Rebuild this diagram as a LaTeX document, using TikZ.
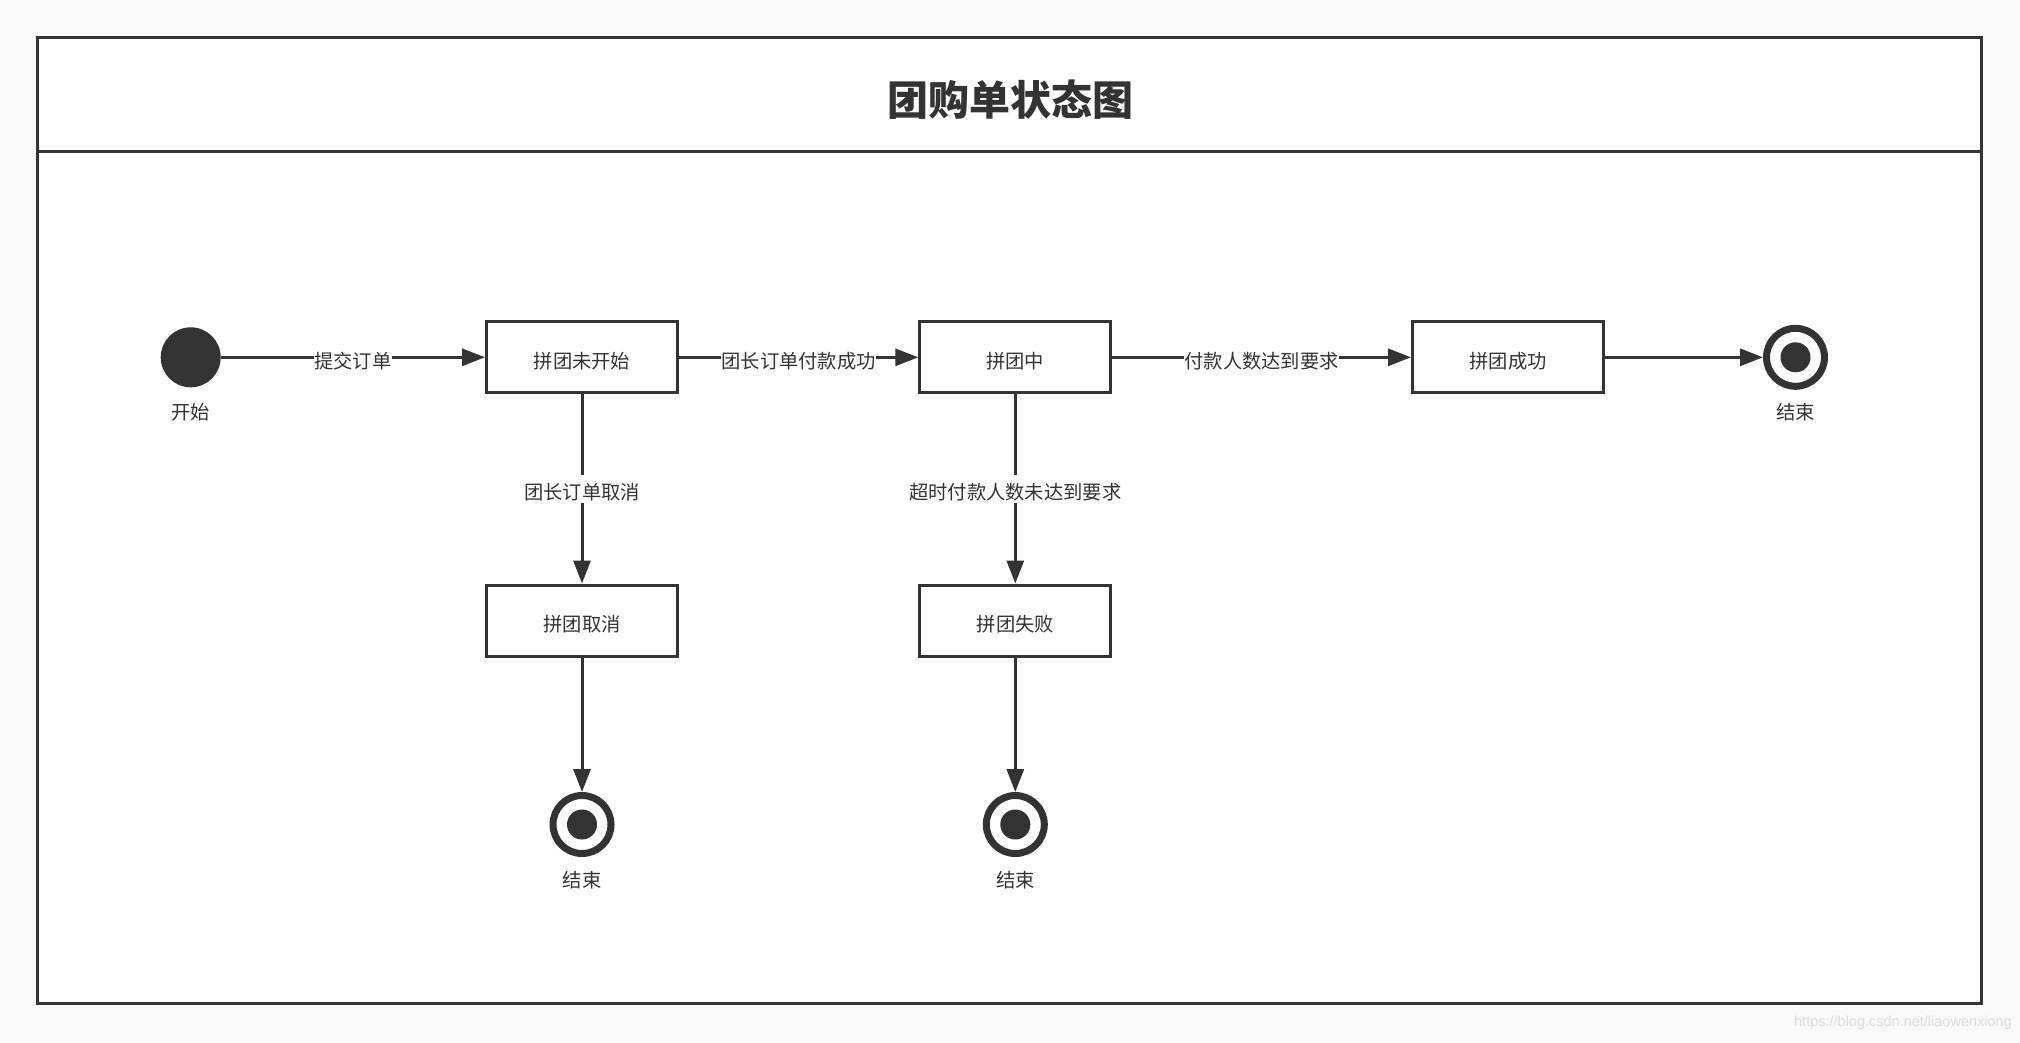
\documentclass[tikz,border=0pt]{standalone}
\usepackage{fontspec}
\setmainfont{Noto Sans CJK SC}
\newfontfamily\wmfont{Liberation Sans}
\usetikzlibrary{arrows.meta}
\definecolor{dark}{HTML}{333333}
\definecolor{bggray}{HTML}{F9F9F9}
\definecolor{wmgray}{HTML}{DCDCDC}
\tikzset{
  txt/.style={text=dark, font=\fontsize{19.3}{23}\selectfont, text height=24pt, text depth=2.3pt, inner sep=0pt},
  statebox/.style={txt, draw=dark, line width=3pt, fill=white, minimum width=191pt, minimum height=71pt},
  startdot/.style={circle, fill=dark, minimum size=60pt, inner sep=0pt},
  endring/.style={circle, draw=dark, line width=7pt, fill=white, minimum size=58pt, inner sep=0pt},
  edgelbl/.style={txt, fill=white, inner sep=0.5pt},
  conn/.style={draw=dark, line width=3pt, -{Triangle[length=23pt,width=17pt]}},
}
\begin{document}
\begin{tikzpicture}[x=1pt,y=-1pt]
\fill[bggray] (0,0) rectangle (2020,1042);
\fill[white] (37.5,37.5) rectangle (1981.5,1003.5);
\draw[dark, line width=3pt] (37.5,37.5) rectangle (1981.5,1003.5);
\draw[dark, line width=3pt] (37.5,151.5) -- (1981.5,151.5);
\node[text=dark, font=\fontsize{41}{48}\selectfont\bfseries, text height=36pt, text depth=4.9pt, inner sep=0pt] (title) at (1010,100) {团购单状态图};

\node[startdot] (start) at (190.7,357.3) {};
\node[txt] (startlbl) at (190.7,408.5) {开始};

\node[statebox] (notstarted) at (582,357.3) {拼团未开始};
\node[statebox] (ongoing) at (1015.3,357.3) {拼团中};
\node[statebox] (success) at (1508,357.3) {拼团成功};
\node[statebox] (cancel) at (582,620.5) {拼团取消};
\node[statebox] (fail) at (1015.3,620.5) {拼团失败};

\node[endring] (endR) at (1795.5,357.3) {};
\fill[dark] (endR.center) circle (15);
\node[txt] (endRlbl) at (1795.5,408.5) {结束};

\node[endring] (endA) at (582,824.5) {};
\fill[dark] (endA.center) circle (15);
\node[txt] (endAlbl) at (582,876.5) {结束};

\node[endring] (endB) at (1015.3,824.5) {};
\fill[dark] (endB.center) circle (15);
\node[txt] (endBlbl) at (1015.3,876.5) {结束};

\draw[conn] (start.east) -- node[edgelbl] {提交订单} (notstarted.west);
\draw[conn] (notstarted.east) -- node[edgelbl] {团长订单付款成功} (ongoing.west);
\draw[conn] (ongoing.east) -- node[edgelbl] {付款人数达到要求} (success.west);
\draw[conn] (success.east) -- (endR.west);
\draw[conn] (notstarted.south) -- node[edgelbl] {团长订单取消} (cancel.north);
\draw[conn] (ongoing.south) -- node[edgelbl] {超时付款人数未达到要求} (fail.north);
\draw[conn] (cancel.south) -- (endA.north);
\draw[conn] (fail.south) -- (endB.north);

\node[text=wmgray, font=\wmfont\fontsize{14.5}{17}\selectfont, inner sep=0pt, anchor=east] (wm) at (2012,1023) {https://blog.csdn.net/liaowenxiong};
\end{tikzpicture}
\end{document}
